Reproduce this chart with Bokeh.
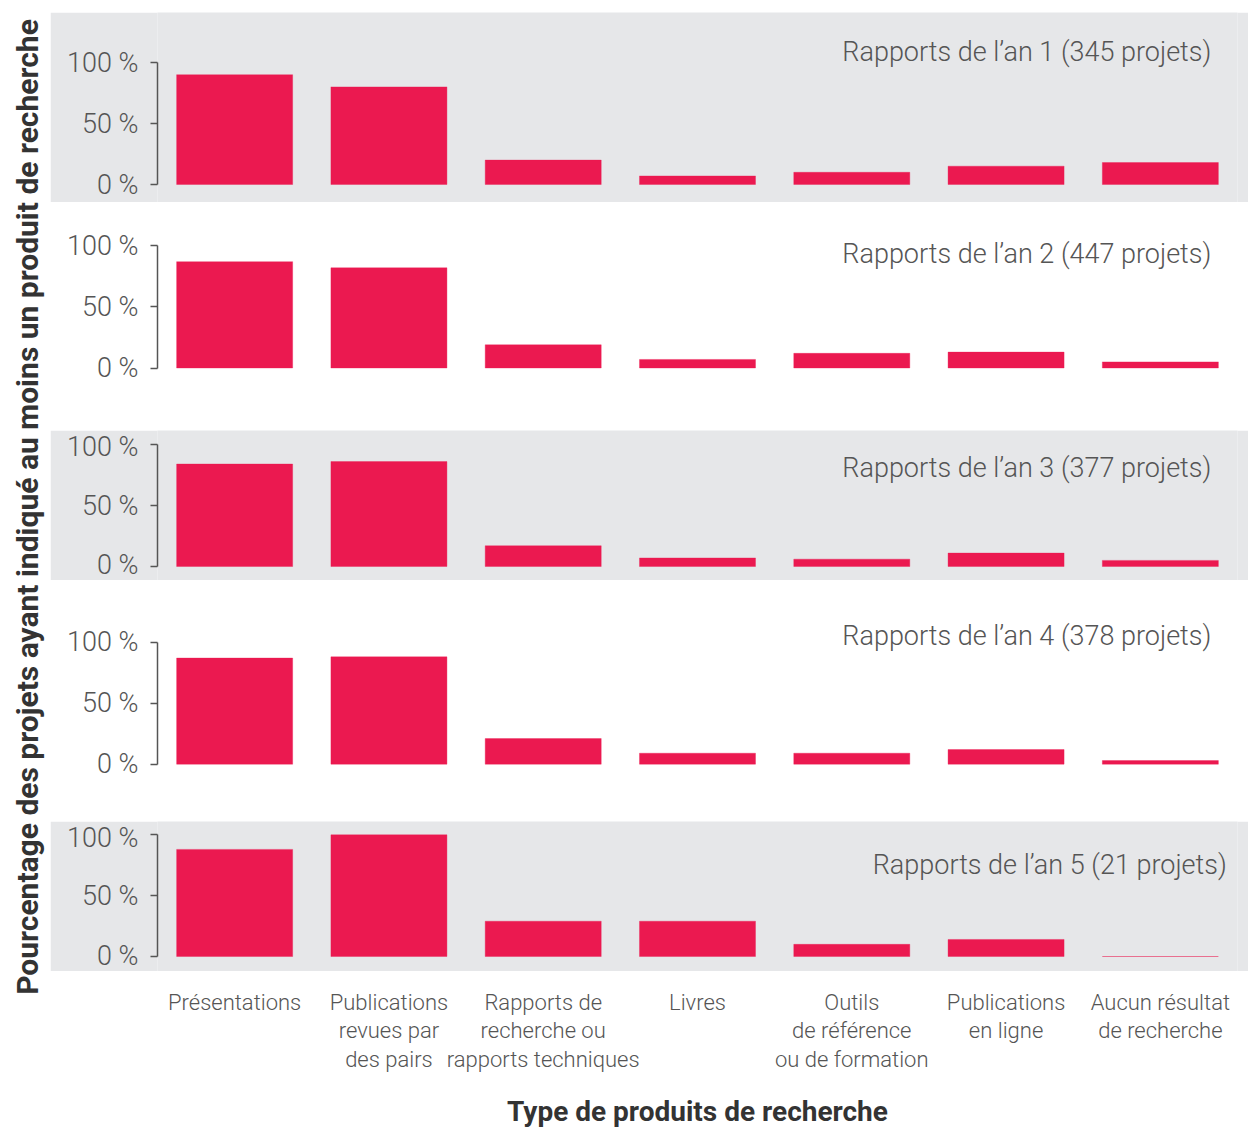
from math import pi
from bokeh.plotting import figure
from bokeh.layouts import row, column, Spacer
from bokeh.models import Range1d, FactorRange, FixedTicker, PrintfTickFormatter, Label
from bokeh.embed import file_html
from bokeh.resources import INLINE

# ---------------- data ----------------
categories = [
    "Présentations",
    "Publications\nrevues par\ndes pairs",
    "Rapports de\nrecherche ou\nrapports techniques",
    "Livres",
    "Outils\nde référence\nou de formation",
    "Publications\nen ligne",
    "Aucun résultat\nde recherche",
]
panel_titles = [
    "Rapports de l’an 1 (345 projets)",
    "Rapports de l’an 2 (447 projets)",
    "Rapports de l’an 3 (377 projets)",
    "Rapports de l’an 4 (378 projets)",
    "Rapports de l’an 5 (21 projets)",
]
year1 = [90, 80, 20, 7, 10, 15, 18]
year2 = [87, 82, 19, 7, 12, 13, 5]
year3 = [84, 86, 17, 7, 6, 11, 5]
year4 = [87, 88, 21, 9, 9, 12, 3]
year5 = [88, 100, 29, 29, 10, 14, 0]
y_ticks = [0, 50, 100]
y_label = "Pourcentage des projets ayant indiqué au moins un produit de recherche"
x_label = "Type de produits de recherche"

series = [year1, year2, year3, year4, year5]

# ---------------- layout (page pixels) ----------------
TOP_GAP = 12
tops = [12, 202, 430, 580, 821]
bottoms = [202, 430, 580, 821, 971]
zero_px = [184, 367.5, 566, 763.7, 956]
hundred_px = [62, 245.3, 444, 641.7, 834.3]
title_px = [51.7, 253, 467.7, 635.7, 864]
title_x = [6.83, 6.83, 6.83, 6.83, 6.93]

BAR = "#EB1950"
GRAY = "#E6E7E9"
TXT = "#555555"
DARK = "#333333"
LIGHT_FONT = "Roboto Light"
BOLD_FONT = "Roboto"

LEFT_W = 50
FULL_W = 1198
LEFT_B = 107
RIGHT_B = 11

x_range = FactorRange(factors=categories)

panels = []
for i, vals in enumerate(series):
    H = bottoms[i] - tops[i]
    k = (zero_px[i] - hundred_px[i]) / 100.0
    y_end = (zero_px[i] - tops[i]) / k
    y_start = -(bottoms[i] - zero_px[i]) / k
    bg = GRAY if i % 2 == 0 else "white"
    p = figure(x_range=x_range, y_range=Range1d(y_start, y_end),
               width=FULL_W, height=H,
               min_border_left=LEFT_B, min_border_right=RIGHT_B,
               min_border_top=0, min_border_bottom=0,
               x_axis_location=None,
               background_fill_color=bg, border_fill_color=bg,
               outline_line_color=None,
               output_backend="svg", toolbar_location=None)
    p.grid.visible = False
    p.vbar(x=categories, top=vals, bottom=0, width=0.752,
           fill_color=BAR, line_color=BAR, line_alpha=0.35, line_width=1)
    ax = p.yaxis[0]
    ax.ticker = FixedTicker(ticks=y_ticks)
    ax.bounds = (0, 100)
    ax.formatter = PrintfTickFormatter(format="%d %%")
    ax.axis_line_color = TXT
    ax.axis_line_width = 1.5
    ax.major_tick_line_color = TXT
    ax.major_tick_line_width = 1.5
    ax.major_tick_out = 7
    ax.major_tick_in = 0
    ax.minor_tick_line_color = None
    ax.major_label_standoff = 12
    ax.major_label_text_font = LIGHT_FONT
    ax.major_label_text_font_size = "27px"
    ax.major_label_text_color = TXT
    ty = (zero_px[i] - title_px[i]) / k
    p.add_layout(Label(x=title_x[i], y=ty, text=panel_titles[i],
                       text_align="right", text_baseline="middle",
                       text_font=LIGHT_FONT, text_font_size="27px",
                       text_color=TXT))
    panels.append(p)

# bottom figure: category labels and x title
pb = figure(x_range=x_range, y_range=Range1d(0, 1),
            frame_width=FULL_W - LEFT_B - RIGHT_B, frame_height=1,
            min_border_left=LEFT_B, min_border_right=RIGHT_B,
            min_border_top=0, min_border_bottom=0,
            y_axis_location=None,
            background_fill_color="white", border_fill_color="white",
            outline_line_color=None,
            output_backend="svg", toolbar_location=None)
pb.grid.visible = False
xa = pb.xaxis[0]
xa.axis_line_color = None
xa.major_tick_line_color = None
xa.minor_tick_line_color = None
xa.major_label_standoff = 11
xa.major_label_text_font = LIGHT_FONT
xa.major_label_text_font_size = "22px"
xa.major_label_text_color = TXT
xa.major_label_text_line_height = 1.14
xa.major_label_orientation = "horizontal"
xa.axis_label = x_label
xa.axis_label_standoff = 20
xa.axis_label_text_font = BOLD_FONT
xa.axis_label_text_font_style = "bold"
xa.axis_label_text_font_size = "28px"
xa.axis_label_text_color = DARK

# left figure: y title
LH = 1120
pl = figure(x_range=Range1d(0, LEFT_W), y_range=Range1d(0, LH),
            width=LEFT_W, height=LH,
            min_border_left=0, min_border_right=0, min_border_top=0, min_border_bottom=0,
            x_axis_location=None, y_axis_location=None,
            background_fill_color="white", border_fill_color="white",
            outline_line_color=None,
            output_backend="svg", toolbar_location=None)
pl.grid.visible = False
pl.add_layout(Label(x=27, y=LH - 506.5, text=y_label, angle=pi / 2,
                    text_align="center", text_baseline="middle",
                    text_font=BOLD_FONT, text_font_style="bold",
                    text_font_size="30px", text_color=DARK))

layout = row(pl, column(Spacer(height=TOP_GAP, width=FULL_W), *panels, pb))
open("out.html", "w").write(file_html(layout, INLINE))
